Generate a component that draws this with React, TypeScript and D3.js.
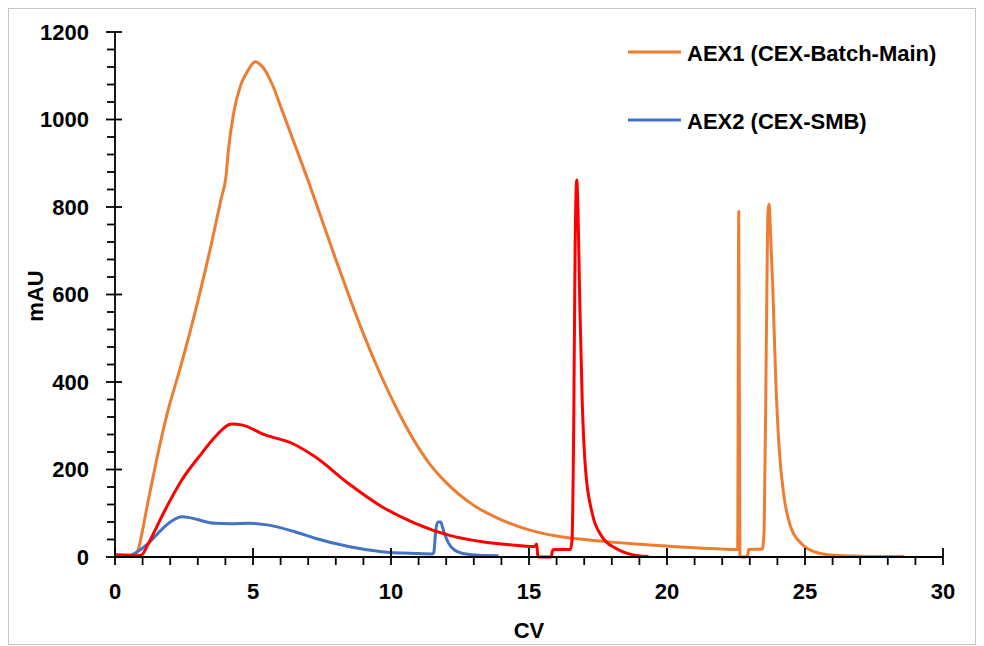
import React from 'react';
import * as d3 from 'd3';

// AEX1 (CEX-Batch-Main) - orange
const aex1X = [0, 0.6, 0.72, 0.85, 1.0, 1.2, 1.5, 1.9, 2.3, 2.7, 3.1, 3.5, 3.85, 4.03, 4.1, 4.3, 4.55, 4.8, 5.08, 5.35, 5.7, 6.0, 6.5, 7.0, 7.5, 8.0, 8.5, 9.0, 9.6, 10.2, 10.8, 11.4, 12.0, 13.0, 14.0, 15.0, 16.0, 17.0, 18.0, 19.0, 20.0, 21.0, 22.0, 22.56, 22.6, 22.64, 22.7, 22.85, 22.92, 22.96, 23.45, 23.52, 23.6, 23.66, 23.7, 23.75, 23.83, 23.94, 24.06, 24.24, 24.48, 24.85, 25.33, 26.05, 27.0, 28.6];
const aex1Y = [2, 2, 4, 18, 62, 128, 220, 330, 418, 510, 610, 718, 820, 875, 925, 1015, 1078, 1110, 1132, 1120, 1080, 1030, 945, 860, 770, 680, 593, 510, 420, 340, 270, 213, 170, 118, 85, 62, 48, 40, 34, 29, 25, 21, 18, 17, 790, 3, 0, 0, 3, 17, 18, 60, 500, 790, 807, 740, 620, 405, 252, 138, 69, 32, 12, 4, 2, 1];

// AEX2 (CEX-SMB) - blue
const aex2X = [0, 0.5, 0.73, 1.21, 1.57, 1.81, 2.1, 2.42, 2.7, 3.02, 3.63, 4.2, 4.84, 5.44, 6.05, 6.6, 7.25, 8.46, 9.67, 10.88, 11.5, 11.55, 11.62, 11.7, 11.8, 11.88, 11.97, 12.1, 12.3, 12.6, 13.2, 13.9];
const aex2Y = [3, 2, 9, 31, 55, 70, 84, 92, 90, 85, 77, 76, 77, 74, 66, 56, 43, 24, 12, 8, 7, 10, 60, 80, 80, 65, 48, 30, 16, 8, 4, 3];

// third run (no legend entry) - red
const runX = [0, 0.6, 0.83, 0.97, 1.21, 1.81, 2.42, 3.14, 3.63, 4.23, 4.59, 5.44, 6.41, 7.25, 8.46, 9.67, 10.88, 12.09, 13.3, 14.3, 15.2, 15.28, 15.32, 15.36, 15.8, 15.85, 15.9, 16.5, 16.56, 16.62, 16.67, 16.73, 16.78, 16.84, 16.93, 17.05, 17.29, 17.65, 18.14, 18.7, 19.33];
const runY = [5, 4, 3, 5, 31, 107, 176, 237, 275, 304, 302, 279, 260, 229, 168, 115, 77, 50, 35, 28, 24, 30, 2, 0, 0, 14, 17, 17, 40, 300, 700, 862, 780, 580, 352, 199, 100, 46, 20, 6, 1];

const xTicks = [0, 5, 10, 15, 20, 25, 30];
const yTicks = [0, 200, 400, 600, 800, 1000, 1200];

const legendNames = ['AEX1 (CEX-Batch-Main)', 'AEX2 (CEX-SMB)'];
const colors = { aex1: '#ED7D31', aex2: '#4472C4', run: '#FF0000' };

const W = 984;
const H = 646;
const font = '"Liberation Sans", Arial, sans-serif';

export default function App() {
  const x = d3.scaleLinear().domain([0, 30]).range([115, 943]);
  const y = d3.scaleLinear().domain([0, 1200]).range([557, 32]);

  const line = d3.line<[number, number]>()
    .x(d => x(d[0]))
    .y(d => y(d[1]))
    .curve(d3.curveMonotoneX);

  const zip = (xs: number[], ys: number[]) => xs.map((v, i) => [v, ys[i]] as [number, number]);

  const xMinor = d3.range(0, 31, 1).filter(v => v % 5 !== 0);
  const yMinor = d3.range(0, 1201, 40).filter(v => v % 200 !== 0);

  return (
    <svg width={W} height={H} style={{ position: 'absolute', left: 0, top: 0, background: '#fff' }}>
      <rect x={8.5} y={8.5} width={967} height={636} fill="#fff" stroke="#c6c6c6" />

      {/* series */}
      <path d={line(zip(aex1X, aex1Y)) || ''} fill="none" stroke={colors.aex1} strokeWidth={3} strokeLinejoin="round" />
      <path d={line(zip(aex2X, aex2Y)) || ''} fill="none" stroke={colors.aex2} strokeWidth={3} strokeLinejoin="round" />
      <path d={line(zip(runX, runY)) || ''} fill="none" stroke={colors.run} strokeWidth={3} strokeLinejoin="round" />

      {/* axes */}
      <g stroke="#000" strokeWidth={1.8}>
        <line x1={x(0)} x2={x(30)} y1={y(0)} y2={y(0)} />
        <line x1={x(0)} x2={x(0)} y1={y(0)} y2={y(1200)} />
        {xTicks.map(t => <line key={'xM' + t} x1={x(t)} x2={x(t)} y1={y(0) - 9} y2={y(0) + 8} />)}
        {xMinor.map(t => <line key={'xm' + t} x1={x(t)} x2={x(t)} y1={y(0)} y2={y(0) + 8} />)}
        {yTicks.map(t => <line key={'yM' + t} x1={x(0) - 9} x2={x(0) + 7} y1={y(t)} y2={y(t)} />)}
        {yMinor.map(t => <line key={'ym' + t} x1={x(0) - 8} x2={x(0)} y1={y(t)} y2={y(t)} />)}
      </g>

      <g fontFamily={font} fontWeight="bold" fontSize={22} fill="#000">
        {yTicks.map(t => (
          <text key={'yl' + t} x={89} y={y(t)} textAnchor="end" dominantBaseline="central">{t}</text>
        ))}
        {xTicks.map(t => (
          <text key={'xl' + t} x={x(t)} y={599} textAnchor="middle">{t}</text>
        ))}
        <text x={529} y={638} textAnchor="middle">CV</text>
        <text transform="translate(43,296) rotate(-90)" textAnchor="middle">mAU</text>

        {legendNames.map((n, i) => (
          <g key={n} transform={`translate(0,${i * 68})`}>
            <line x1={628} x2={681} y1={52} y2={52} stroke={i === 0 ? colors.aex1 : colors.aex2} strokeWidth={3} />
            <text x={687} y={61}>{n}</text>
          </g>
        ))}
      </g>
    </svg>
  );
}
